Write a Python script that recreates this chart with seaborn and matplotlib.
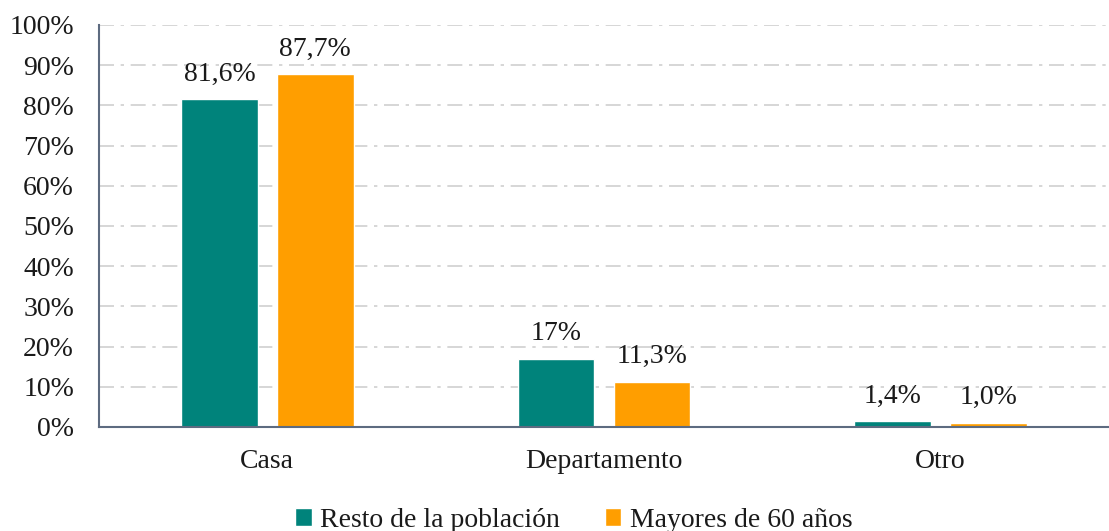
import pandas as pd
import seaborn as sns
import matplotlib.pyplot as plt
from matplotlib.ticker import MultipleLocator, FuncFormatter

# Datos
categorias = ['Casa', 'Departamento', 'Otro']
resto = [81.6, 17.0, 1.4]
mayores = [87.7, 11.3, 1.0]
etiquetas_resto = ['81,6%', '17%', '1,4%']
etiquetas_mayores = ['87,7%', '11,3%', '1,0%']
grupos = ['Resto de la población', 'Mayores de 60 años']

df = pd.DataFrame({
    'Vivienda': categorias * 2,
    'Grupo': [grupos[0]] * 3 + [grupos[1]] * 3,
    'Valor': resto + mayores,
})

sns.set_style('white')
plt.rcParams['font.family'] = ['Liberation Serif', 'DejaVu Serif']

fig = plt.figure(figsize=(11.09, 5.31), dpi=100)
ax = fig.add_axes([0.0893, 0.196, 0.9107, 0.757])

sns.barplot(data=df, x='Vivienda', y='Valor', hue='Grupo',
            palette=['#00837B', '#FF9E00'], width=0.57, gap=0.2,
            saturation=1, ax=ax)

# Etiquetas sobre las barras
for cont, labels in zip(ax.containers, [etiquetas_resto, etiquetas_mayores]):
    ax.bar_label(cont, labels=labels, padding=9, fontsize=20, color='#1a1a1a')

ax.set_ylim(0, 100)
ax.set_xlim(-0.5, 2.5)
ax.yaxis.set_major_locator(MultipleLocator(10))
ax.yaxis.set_major_formatter(FuncFormatter(lambda v, p: f'{v:.0f}%'))
ax.grid(axis='y', color='#d0d0d0', linestyle=(0, (9, 4, 2, 4)), linewidth=1.2)
ax.set_axisbelow(True)
ax.set_xlabel('')
ax.set_ylabel('')
ax.tick_params(axis='both', labelsize=20, colors='#1a1a1a', length=0)
ax.tick_params(axis='y', pad=18)
ax.tick_params(axis='x', pad=16)

for s in ['top', 'right']:
    ax.spines[s].set_visible(False)
for s in ['left', 'bottom']:
    ax.spines[s].set_color('#5d6b80')
    ax.spines[s].set_linewidth(1.5)

leg = ax.legend(loc='lower center', bbox_to_anchor=(0.47, -0.325), ncol=2,
                frameon=False, fontsize=20, handlelength=0.6, handleheight=0.6,
                handletextpad=0.3, columnspacing=1.6)
for t in leg.get_texts():
    t.set_color('#1a1a1a')

plt.savefig('out.png', dpi=100)
